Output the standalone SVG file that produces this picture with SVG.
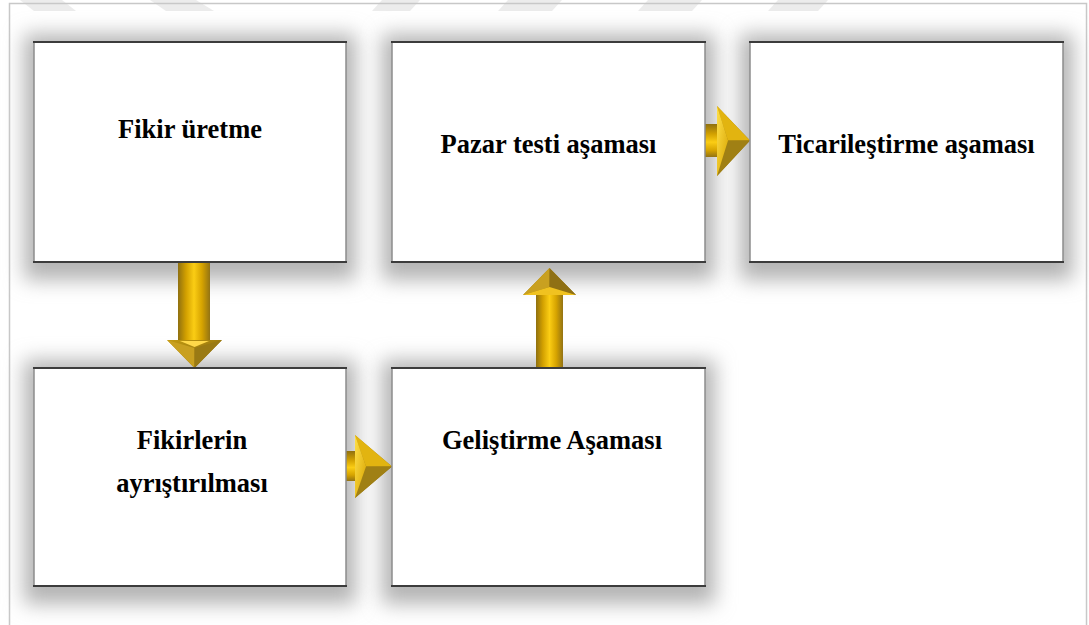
<svg xmlns="http://www.w3.org/2000/svg" width="1089" height="625" viewBox="0 0 1089 625">
  <style>
    .box { fill: #ffffff; }
    .edge-h { stroke: #3c3c3c; stroke-width: 2; }
    .edge-v { stroke: #8c8c8c; stroke-width: 1.5; }
    .shadow { fill: #b4b4b4; filter: url(#soft); }
    .label { font-family: "Liberation Serif", "Times New Roman", serif; font-weight: bold; font-size: 26.5px; fill: #000; text-anchor: middle; }
    .stripe { fill: #ececec; }
  </style>
  <defs>
    <filter id="soft" x="-25%" y="-25%" width="150%" height="150%">
      <feGaussianBlur stdDeviation="10"/>
    </filter>
    <!-- gold fill across a vertical shaft -->
    <linearGradient id="goldV" x1="0" y1="0" x2="1" y2="0">
      <stop offset="0" stop-color="#8f7010"/>
      <stop offset="0.25" stop-color="#d2a000"/>
      <stop offset="0.5" stop-color="#fbcd14"/>
      <stop offset="0.75" stop-color="#d6a300"/>
      <stop offset="1" stop-color="#937314"/>
    </linearGradient>
    <!-- gold fill across a horizontal shaft -->
    <linearGradient id="goldH" x1="0" y1="0" x2="0" y2="1">
      <stop offset="0" stop-color="#8f7010"/>
      <stop offset="0.3" stop-color="#d2a000"/>
      <stop offset="0.55" stop-color="#fbcd14"/>
      <stop offset="0.8" stop-color="#d6a300"/>
      <stop offset="1" stop-color="#937314"/>
    </linearGradient>
    <linearGradient id="headDark" x1="0" y1="0" x2="1" y2="1">
      <stop offset="0" stop-color="#c39a10"/>
      <stop offset="1" stop-color="#7e6210"/>
    </linearGradient>
    <linearGradient id="headLight" x1="0" y1="0" x2="1" y2="1">
      <stop offset="0" stop-color="#ffe04a"/>
      <stop offset="1" stop-color="#d8a400"/>
    </linearGradient>
  </defs>

  <!-- page background and frame -->
  <rect x="0" y="0" width="1089" height="625" fill="#ffffff"/>
  <g id="stripes">
    <polygon class="stripe" points="20,0 62,0 76,11 34,11"/>
    <polygon class="stripe" points="150,0 196,0 214,11 166,11"/>
    <polygon class="stripe" points="382,0 420,0 410,11 372,11"/>
    <polygon class="stripe" points="508,0 562,0 552,11 498,11"/>
    <polygon class="stripe" points="648,0 702,0 692,11 638,11"/>
    <polygon class="stripe" points="778,0 828,0 818,11 768,11"/>
  </g>
  <rect x="9.5" y="3.5" width="1077" height="640" fill="none" stroke="#c8c8c8" stroke-width="1.5"/>

  <!-- soft shadows behind the cards -->
  <g id="shadows">
    <rect class="shadow" x="24" y="34" width="332" height="246"/>
    <rect class="shadow" x="382" y="34" width="333" height="246"/>
    <rect class="shadow" x="740" y="34" width="333" height="246"/>
    <rect class="shadow" x="24" y="360" width="332" height="244"/>
    <rect class="shadow" x="382" y="360" width="333" height="244"/>
  </g>

  <!-- connectors: gold block arrows -->
  <g id="connectors">
    <!-- Fikir üretme -> Fikirlerin ayrıştırılması -->
    <g id="arrow-down">
      <rect x="178" y="262" width="32" height="80" fill="url(#goldV)"/>
      <polygon points="167,340 222,340 194.5,368" fill="url(#headDark)"/>
      <polygon points="167,340 194.5,348 194.5,368" fill="#c9a020"/>
      <polygon points="222,340 194.5,348 194.5,368" fill="#9a7a14"/>
      <polygon points="180,341 209,341 194.5,347" fill="#ffd84a"/>
    </g>
    <!-- Fikirlerin ayrıştırılması -> Geliştirme Aşaması -->
    <g id="arrow-right-low">
      <rect x="346" y="451" width="12" height="30" fill="url(#goldH)"/>
      <polygon points="355,435 392,466.5 355,498" fill="url(#headDark)"/>
      <polygon points="355,435 366,466.5 392,466.5" fill="#e2b410"/>
      <polygon points="355,498 366,466.5 392,466.5" fill="#a08014"/>
      <polygon points="355,435 366,466.5 355,498" fill="url(#headLight)"/>
    </g>
    <!-- Geliştirme Aşaması -> Pazar testi aşaması -->
    <g id="arrow-up">
      <rect x="536" y="293" width="27" height="75" fill="url(#goldV)"/>
      <polygon points="523,295 549.5,268 576,295" fill="url(#headDark)"/>
      <polygon points="523,295 549.5,268 549.5,287" fill="#c9a020"/>
      <polygon points="576,295 549.5,268 549.5,287" fill="#8f7014"/>
      <polygon points="523,295 549.5,287 576,295" fill="#f0c220"/>
    </g>
    <!-- Pazar testi aşaması -> Ticarileştirme aşaması -->
    <g id="arrow-right-top">
      <rect x="705" y="124" width="14" height="33" fill="url(#goldH)"/>
      <polygon points="717,106 750,140.5 717,176" fill="url(#headDark)"/>
      <polygon points="717,106 728,140.5 750,140.5" fill="#e2b410"/>
      <polygon points="717,176 728,140.5 750,140.5" fill="#a08014"/>
      <polygon points="717,106 728,140.5 717,176" fill="url(#headLight)"/>
    </g>
  </g>

  <!-- cards -->
  <g id="node-fikir-uretme">
    <rect class="box" x="34" y="42" width="312" height="220"/>
    <line class="edge-v" x1="34" y1="42" x2="34" y2="262"/>
    <line class="edge-v" x1="346" y1="42" x2="346" y2="262"/>
    <line class="edge-h" x1="33" y1="42" x2="347" y2="42"/>
    <line class="edge-h" x1="33" y1="262" x2="347" y2="262"/>
    <text class="label" x="190" y="138">Fikir üretme</text>
  </g>

  <g id="node-pazar-testi">
    <rect class="box" x="392" y="42" width="313" height="220"/>
    <line class="edge-v" x1="392" y1="42" x2="392" y2="262"/>
    <line class="edge-v" x1="705" y1="42" x2="705" y2="262"/>
    <line class="edge-h" x1="391" y1="42" x2="706" y2="42"/>
    <line class="edge-h" x1="391" y1="262" x2="706" y2="262"/>
    <text class="label" x="548.5" y="153">Pazar testi aşaması</text>
  </g>

  <g id="node-ticarilestirme">
    <rect class="box" x="750" y="42" width="313" height="220"/>
    <line class="edge-v" x1="750" y1="42" x2="750" y2="262"/>
    <line class="edge-v" x1="1063" y1="42" x2="1063" y2="262"/>
    <line class="edge-h" x1="749" y1="42" x2="1064" y2="42"/>
    <line class="edge-h" x1="749" y1="262" x2="1064" y2="262"/>
    <text class="label" x="906.5" y="153">Ticarileştirme aşaması</text>
  </g>

  <g id="node-fikirlerin-ayristirilmasi">
    <rect class="box" x="34" y="368" width="312" height="218"/>
    <line class="edge-v" x1="34" y1="368" x2="34" y2="586"/>
    <line class="edge-v" x1="346" y1="368" x2="346" y2="586"/>
    <line class="edge-h" x1="33" y1="368" x2="347" y2="368"/>
    <line class="edge-h" x1="33" y1="586" x2="347" y2="586"/>
    <text class="label" x="192" y="449">Fikirlerin</text>
    <text class="label" x="192" y="492">ayrıştırılması</text>
  </g>

  <g id="node-gelistirme">
    <rect class="box" x="392" y="368" width="313" height="218"/>
    <line class="edge-v" x1="392" y1="368" x2="392" y2="586"/>
    <line class="edge-v" x1="705" y1="368" x2="705" y2="586"/>
    <line class="edge-h" x1="391" y1="368" x2="706" y2="368"/>
    <line class="edge-h" x1="391" y1="586" x2="706" y2="586"/>
    <text class="label" x="552" y="449">Geliştirme Aşaması</text>
  </g>
</svg>
